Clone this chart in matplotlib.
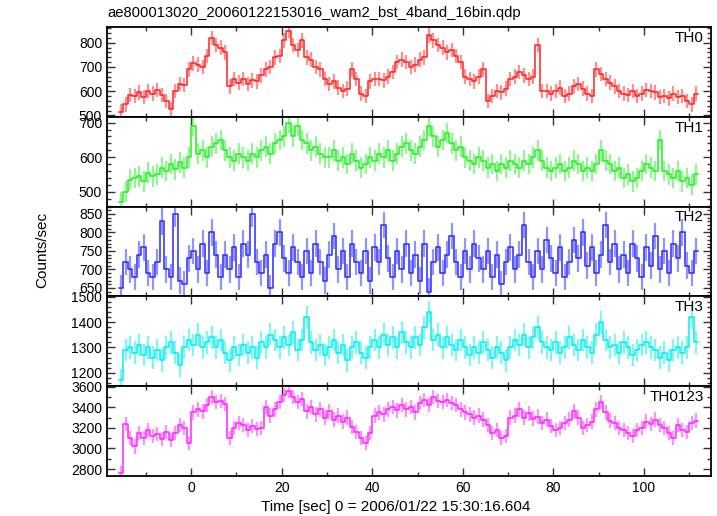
import numpy as np
import matplotlib
matplotlib.use("Agg")
import matplotlib.pyplot as plt
from matplotlib.ticker import MultipleLocator

plt.rcParams['font.family'] = ['Liberation Sans', 'DejaVu Sans']

title = "ae800013020_20060122153016_wam2_bst_4band_16bin.qdp"
xlabel = "Time [sec] 0 = 2006/01/22 15:30:16.604"
ylabel = "Counts/sec"

t_start = -16.0
bin_width = 1.0

th0 = [515, 545, 585, 580, 595, 575, 600, 590, 605, 585, 560, 525, 600, 630, 625, 690,
       715, 710, 700, 745, 820, 790, 780, 760, 620, 650, 635, 650, 630, 645, 640, 665,
       690, 700, 740, 745, 810, 850, 790, 770, 810, 740, 730, 700, 690, 650, 630, 640,
       615, 600, 610, 690, 650, 590, 580, 640, 650, 650, 645, 660, 680, 720, 730, 720,
       700, 710, 730, 740, 830, 810, 790, 780, 760, 770, 745, 720, 660, 650, 640, 660,
       690, 560, 580, 600, 595, 610, 650, 660, 680, 665, 650, 660, 790, 600, 600, 590,
       600, 615, 580, 590, 620, 630, 610, 590, 580, 690, 670, 650, 635, 620, 600, 590,
       585, 600, 580, 590, 605, 600, 595, 575, 580, 570, 590, 575, 580, 560, 545, 590]

th1 = [470, 500, 535, 540, 545, 530, 555, 545, 550, 570, 560, 580, 565, 585, 570, 600,
       690, 610, 620, 600, 630, 640, 650, 620, 600, 590, 610, 600, 590, 610, 600, 620,
       630, 610, 640, 650, 660, 700, 660, 690, 650, 640, 620, 630, 610, 600, 600, 620,
       590, 600, 580, 610, 590, 570, 580, 600, 590, 610, 600, 620, 590, 610, 630, 640,
       620, 610, 630, 650, 690, 660, 630, 650, 670, 640, 620, 630, 600, 590, 580, 600,
       590, 570, 580, 560, 580, 570, 590, 580, 570, 590, 580, 600, 620, 590, 570, 560,
       570, 580, 560, 570, 590, 580, 560, 570, 560, 580, 620, 590, 580, 560, 570, 540,
       550, 530, 540, 560, 580, 570, 560, 650, 560, 550, 540, 560, 530, 540, 520, 550]

th2 = [650, 720, 700, 680, 740, 760, 690, 680, 720, 830, 700, 680, 850, 670, 660, 730,
       750, 700, 770, 690, 800, 740, 680, 740, 700, 760, 680, 770, 740, 850, 720, 690,
       740, 650, 770, 800, 730, 690, 760, 720, 680, 750, 690, 770, 720, 670, 740, 790,
       700, 750, 680, 770, 720, 690, 750, 670, 760, 720, 820, 730, 680, 750, 700, 770,
       690, 740, 670, 770, 640, 720, 760, 690, 740, 790, 720, 680, 750, 700, 770, 730,
       700, 750, 680, 740, 660, 720, 760, 700, 740, 820, 720, 680, 750, 700, 780, 730,
       690, 760, 680, 720, 780, 730, 800, 710, 760, 690, 740, 820, 720, 770, 700, 740,
       690, 770, 730, 680, 760, 710, 790, 700, 750, 690, 770, 730, 800, 710, 690, 750]

th3 = [1170, 1290, 1300, 1280, 1310, 1270, 1300, 1260, 1290, 1250, 1300, 1320, 1280, 1230, 1300, 1330,
       1310, 1350, 1300, 1320, 1340, 1300, 1330, 1280, 1250, 1300, 1270, 1310, 1280, 1300, 1260, 1320,
       1300, 1350, 1330, 1300, 1340, 1310, 1360, 1290, 1330, 1420, 1320, 1290, 1310, 1270, 1300, 1330,
       1280, 1310, 1250, 1300, 1320, 1280, 1260, 1300, 1330, 1300, 1350, 1310, 1340, 1300, 1360, 1320,
       1300, 1340, 1310, 1380, 1440, 1330, 1350, 1300, 1340, 1310, 1290, 1330, 1300, 1270, 1300, 1280,
       1320, 1290, 1260, 1300, 1280, 1250, 1300, 1330, 1310, 1350, 1300, 1340, 1380, 1320, 1300, 1290,
       1320, 1280, 1300, 1340, 1310, 1290, 1330, 1300, 1280, 1350, 1400, 1330, 1300, 1310, 1280, 1320,
       1300, 1270, 1290, 1310, 1320, 1300, 1290, 1260, 1280, 1250, 1290, 1300, 1280, 1300, 1420, 1320]

th0123 = [2760, 3240, 3100, 3020, 3150, 3100, 3180, 3120, 3140, 3090, 3160, 3080, 3150, 3230, 3200, 3050,
          3350, 3380, 3360, 3420, 3500, 3450, 3460, 3430, 3100, 3200, 3250, 3230, 3180, 3220, 3190, 3200,
          3400, 3320, 3380, 3450, 3520, 3560, 3500, 3450, 3480, 3360, 3400, 3330, 3380, 3300, 3360, 3280,
          3320, 3260, 3300, 3210, 3160, 3100, 3050, 3150, 3320, 3350, 3330, 3380, 3400, 3370, 3420, 3380,
          3400, 3350, 3440, 3470, 3420, 3500, 3460, 3450, 3470, 3440, 3420, 3380, 3350, 3330, 3300, 3320,
          3280, 3230, 3150, 3180, 3100, 3120, 3300, 3320, 3380, 3300, 3340, 3290, 3310, 3250, 3280, 3220,
          3180, 3200, 3250, 3280, 3360, 3300, 3200, 3230, 3260, 3380, 3450, 3350, 3270, 3250, 3200, 3180,
          3150, 3120, 3180, 3200, 3260, 3240, 3280, 3230, 3200, 3150, 3100, 3230, 3180, 3160, 3250, 3270]

series = [th0, th1, th2, th3, th0123]
names = ["TH0", "TH1", "TH2", "TH3", "TH0123"]
errors = [30, 30, 36, 45, 70]
colors = ["#ff2020", "#22ee22", "#2828ff", "#00eeee", "#ff22ff"]
ylims = [(494, 865), (457, 717), (627, 870), (1147, 1502), (2732, 3605)]
ymajor = [100, 100, 50, 100, 200]
yminor = [20, 20, 10, 20, 100]

W, H = 717, 516
fig = plt.figure(figsize=(W / 100, H / 100), dpi=100)
left, right = 107 / W, 711 / W
top_px, bot_px = 27, 476
ph = (bot_px - top_px) / 5

for i in range(5):
    y0 = 1 - (top_px + ph * (i + 1)) / H
    ax = fig.add_axes([left, y0, right - left, ph / H])
    vals = np.array(series[i], dtype=float)
    n = len(vals)
    edges = t_start + bin_width * np.arange(n + 1)
    centers = edges[:-1] + bin_width / 2
    c = colors[i]
    ax.errorbar(centers, vals, yerr=errors[i], fmt='none', ecolor=c, elinewidth=1.6,
                alpha=0.5, capsize=0)
    ax.step(edges, np.append(vals, vals[-1]), where='post', color=c, lw=1.1)
    ax.set_xlim(-18.6, 114.8)
    ax.set_ylim(*ylims[i])
    ax.xaxis.set_major_locator(MultipleLocator(20))
    ax.xaxis.set_minor_locator(MultipleLocator(10))
    ax.yaxis.set_major_locator(MultipleLocator(ymajor[i]))
    ax.yaxis.set_minor_locator(MultipleLocator(yminor[i]))
    ax.tick_params(which='both', direction='in', top=True, right=True, labelsize=10,
                   width=1.0, color='#333333')
    ax.tick_params(which='major', length=6)
    ax.tick_params(which='minor', length=3)
    for s in ax.spines.values():
        s.set_linewidth(1.3)
    if i < 4:
        ax.tick_params(labelbottom=False)
    ax.text(0.988, 0.88, names[i], transform=ax.transAxes, ha='right', va='center',
            fontsize=11)

fig.text(107 / W, 1 - 13 / H, title, ha='left', va='center', fontsize=10.6)
fig.text(396 / W, 1 - 507 / H, xlabel, ha='center', va='center', fontsize=11)
fig.text(42 / W, 1 - 250 / H, ylabel, ha='center', va='center', rotation=90, fontsize=11)

fig.savefig("out.png", dpi=100)
